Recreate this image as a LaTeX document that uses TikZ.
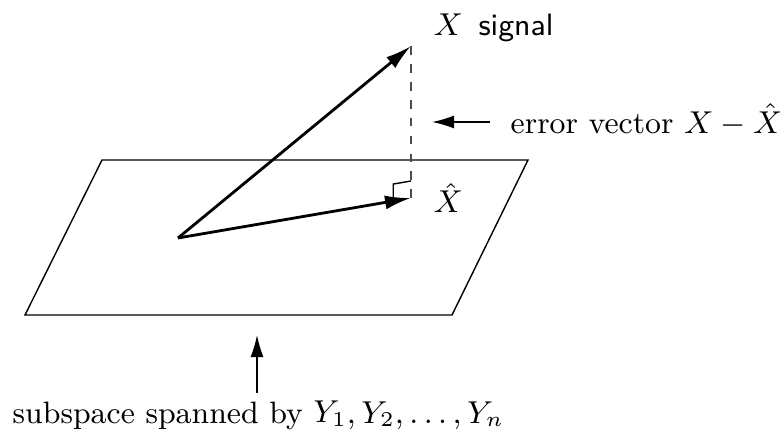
\documentclass[tikz,border=0pt]{standalone}
\usetikzlibrary{arrows.meta,calc}
\begin{document}
\begin{tikzpicture}[
    % Vetores principais
    vec/.style={draw, thick, -{Latex[length=2.6mm, width=1.4mm]}},
    % Setas de indicação
    seta/.style={draw, thin, -{Latex[length=2.2mm, width=1.3mm]}},
    % Rótulos
    lbl/.style={inner sep=0pt, anchor=base west,
        font=\fontsize{8.8}{10.5}\selectfont},
    plano/.style={draw, thin},
    erro/.style={draw=black!70, thin, dash pattern=on 2.5pt off 2.6pt}
]
\useasboundingbox (0,0) rectangle (7.8,4.36);

% ---- PLANO ----
\coordinate (p_sw) at (0.25,1.21);
\coordinate (p_se) at (4.52,1.21);
\coordinate (p_ne) at (5.28,2.76);
\coordinate (p_nw) at (1.02,2.76);
\draw[plano] (p_sw) -- (p_se) -- (p_ne) -- (p_nw) -- cycle;

% ---- VETORES ----
\coordinate (orig) at (1.78,1.98);
\coordinate (x)    at (4.11,3.90);
\coordinate (xhat) at (4.11,2.38);
\draw[vec]  (orig) -- (x);
\draw[vec]  (orig) -- (xhat);
\draw[erro] (x) -- (xhat);

% Ângulo reto
\coordinate (ang_a) at ($(xhat)!0.18cm!(orig)$);
\draw[thin] (ang_a) -- ++(0,0.17) -- ($(xhat)+(0,0.17)$);

% ---- RÓTULOS ----
\node[lbl] (lblx)    at (4.33,4.00) {$X$\enspace\textsf{signal}};
\node[lbl] (lblxhat) at (4.33,2.23) {$\hat{X}$};
\node[lbl] (lblerr)  at (5.10,3.02) {error vector $X-\hat{X}$};
\node[lbl] (lblsub)  at (0.12,0.13) {subspace spanned by $Y_1, Y_2, \ldots, Y_n$};

% Setas de indicação
\coordinate (err_tip) at (4.32,3.14);
\draw[seta, shorten <=2mm] (lblerr.west |- err_tip) -- (err_tip);

\coordinate (sub_tip) at (2.57,1.01);
\draw[seta, shorten <=0.8mm] (sub_tip |- lblsub.north) -- (sub_tip);

\end{tikzpicture}
\end{document}
